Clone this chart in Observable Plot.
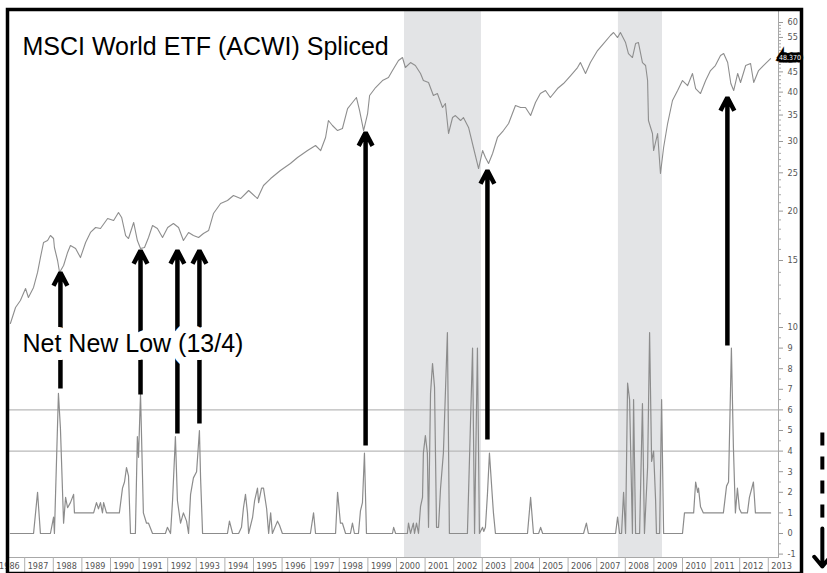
<!DOCTYPE html>
<html><head><meta charset="utf-8">
<script src="https://cdn.jsdelivr.net/npm/d3@7"></script>
<script src="https://cdn.jsdelivr.net/npm/@observablehq/plot@0.6"></script>
<style>
html,body{margin:0;padding:0;background:#fff;}
#wrap{position:relative;width:827px;height:573px;overflow:hidden;}
#wrap svg{position:absolute;left:0;top:0;}
</style></head><body><div id="wrap"></div>
<script>
// ---- data ----
const priceYear = [1986.50,1986.68,1986.85,1987.03,1987.13,1987.31,1987.45,1987.55,1987.66,1987.80,1987.90,1988.01,1988.04,1988.15,1988.22,1988.36,1988.50,1988.60,1988.78,1988.95,1989.13,1989.30,1989.48,1989.65,1989.90,1990.11,1990.28,1990.39,1990.53,1990.63,1990.81,1990.94,1991.05,1991.19,1991.33,1991.47,1991.64,1991.82,1992.00,1992.20,1992.38,1992.55,1992.73,1992.90,1993.08,1993.25,1993.43,1993.60,1993.85,1994.09,1994.30,1994.55,1994.83,1995.14,1995.35,1995.60,1995.94,1996.29,1996.54,1996.89,1997.17,1997.35,1997.52,1997.62,1997.76,1997.94,1998.11,1998.29,1998.46,1998.60,1998.71,1998.85,1998.99,1999.06,1999.27,1999.51,1999.72,1999.86,2000.07,2000.21,2000.31,2000.49,2000.66,2000.84,2000.94,2001.12,2001.29,2001.43,2001.61,2001.71,2001.82,2001.96,2002.06,2002.24,2002.34,2002.52,2002.69,2002.87,2003.01,2003.11,2003.22,2003.36,2003.53,2003.74,2003.92,2004.16,2004.34,2004.51,2004.69,2004.86,2005.03,2005.21,2005.38,2005.63,2005.84,2006.09,2006.33,2006.43,2006.61,2006.78,2007.03,2007.24,2007.48,2007.59,2007.73,2007.83,2008.01,2008.11,2008.25,2008.36,2008.46,2008.60,2008.71,2008.78,2008.81,2008.95,2008.99,2009.13,2009.23,2009.34,2009.48,2009.65,2009.83,2010.00,2010.18,2010.35,2010.46,2010.63,2010.81,2010.98,2011.15,2011.33,2011.44,2011.58,2011.69,2011.79,2011.93,2012.03,2012.21,2012.38,2012.49,2012.66,2012.83,2013.08];
const priceValue = [10.39,11.41,11.88,12.74,12.09,12.82,13.99,15.26,16.66,16.85,17.35,17.05,16.18,15.00,13.99,14.57,15.72,16.37,16.09,15.26,16.66,17.66,18.18,18.07,19.16,18.94,19.84,19.27,17.35,17.05,18.72,16.85,16.09,16.18,17.15,18.39,18.07,17.15,18.18,18.61,18.18,16.85,17.66,17.35,17.15,17.55,17.86,19.72,20.91,21.27,21.90,21.52,22.55,21.52,23.22,24.18,25.34,26.39,27.33,28.46,29.31,28.46,30.71,33.90,32.93,31.98,32.36,36.35,37.65,38.76,35.93,31.98,35.31,39.21,41.08,42.79,43.55,45.36,48.08,48.93,46.16,47.52,46.70,44.58,42.79,42.30,39.21,39.67,36.57,37.43,31.43,34.50,34.90,33.90,34.50,32.55,28.97,25.63,28.46,27.33,26.39,27.97,30.71,31.98,33.31,36.99,36.57,36.57,34.90,37.65,39.67,40.37,38.76,40.84,42.05,44.06,46.16,47.52,44.58,47.52,50.96,53.08,55.62,56.60,54.97,56.60,53.39,50.08,48.93,53.08,53.39,47.52,46.70,42.79,33.90,31.43,28.46,31.43,24.90,28.97,33.31,38.09,40.37,42.79,41.56,44.58,40.84,39.67,42.79,45.36,46.70,49.50,50.08,47.52,42.05,40.37,44.58,42.30,46.70,47.25,42.30,45.36,46.70,48.64];

const nnlYear = [1986.50,1987.31,1987.45,1987.55,1987.90,1988.01,1988.04,1988.18,1988.25,1988.36,1988.43,1988.50,1988.60,1988.71,1988.74,1989.41,1989.51,1989.58,1989.65,1989.72,1989.76,1989.86,1990.31,1990.42,1990.49,1990.56,1990.63,1990.70,1990.87,1990.94,1990.98,1991.05,1991.15,1991.26,1991.33,1991.47,1991.92,1991.99,1992.10,1992.17,1992.27,1992.34,1992.45,1992.55,1992.66,1992.73,1992.80,1992.90,1993.01,1993.11,1993.15,1993.22,1994.09,1994.16,1994.27,1994.48,1994.58,1994.65,1994.72,1994.79,1994.83,1994.97,1995.04,1995.14,1995.18,1995.28,1995.35,1995.46,1995.53,1995.60,1995.66,1995.84,1995.91,1996.01,1996.99,1997.10,1997.17,1997.87,1997.94,1998.04,1998.11,1998.22,1998.39,1998.46,1998.53,1998.67,1998.74,1998.81,1998.88,1998.95,1999.86,1999.90,1999.97,2000.38,2000.42,2000.49,2000.59,2000.63,2000.70,2000.77,2000.84,2000.91,2000.94,2001.01,2001.08,2001.12,2001.19,2001.26,2001.33,2001.40,2001.47,2001.54,2001.64,2001.78,2001.85,2002.48,2002.66,2002.73,2002.83,2002.90,2003.01,2003.05,2003.11,2003.18,2003.25,2003.36,2003.39,2003.46,2004.58,2004.69,2004.79,2004.97,2005.04,2005.11,2006.54,2006.64,2006.71,2007.66,2007.73,2007.80,2007.87,2007.94,2008.01,2008.08,2008.15,2008.25,2008.29,2008.36,2008.50,2008.60,2008.67,2008.78,2008.85,2008.92,2008.99,2009.06,2009.09,2009.20,2009.27,2009.34,2010.00,2010.07,2010.39,2010.46,2010.53,2010.56,2010.63,2010.73,2011.43,2011.54,2011.61,2011.71,2011.78,2011.85,2011.92,2011.99,2012.06,2012.27,2012.34,2012.48,2012.55,2013.08];
const nnlValue = [0,0,2.0,0,0,0.8,0,6.8,5.1,0.5,1.75,1.25,1.5,1.9,1.0,1.0,1.5,1.2,1.5,1.0,1.5,1.0,1.0,2.2,2.5,3.2,2.8,0,0,4.7,3.7,6.8,1.0,0.5,0.5,0,0,0.3,0,1.6,4.7,1.6,0.5,1.0,0.6,0,1.9,2.7,3.0,5.0,2.7,0,0,0.6,0,0,0.3,1.25,1.9,1.0,0,0.8,1.6,2.2,1.5,2.2,2.2,1.2,0,1.0,0,0.6,0.4,0,0,1.0,0,0,2.0,0.5,0.5,0,0,0.5,0,0,1.1,1.5,3.9,0,0,0.3,0,0,0.5,0,0.5,0,0.5,0,1.3,1.75,3.9,4.75,3.9,0.3,6.8,8.25,7.1,0.3,0.3,2.2,3.9,9.75,0,0,9.0,0,9.0,0,0.3,0.1,0.3,1.9,3.9,1.6,1.0,0,0,1.75,0,0,0.3,0,0,0.5,0,0,0.8,0,0,2.0,0,7.3,6.5,0,6.5,0,0,6.3,0,3.2,9.75,3.5,4.0,1.6,0,0,6.5,0,0,1.0,1.0,2.5,2.0,2.2,1.3,1.0,1.0,2.3,2.5,9.0,4.2,1.0,2.2,1.2,1.0,1.0,1.75,2.5,1.0,1.0];

const refLevels = [4, 6];
const shadeStart = [2000.28, 2007.76];
const shadeEnd = [2002.97, 2009.30];

const arrowYear = [1988.25, 1991.05, 1992.34, 1993.11, 1998.92, 2003.18, 2011.57];
const arrowLowPrice = [13.99, 15.9, 15.9, 15.9, 31.6, 25.34, 38.76];
const arrowSpikeNNL = [7.04, 6.75, 4.85, 5.34, 4.27, 4.56, 9.13];

const sideArrowYear = 2014.89;
const sideDashFrom = 4.9, sideDashTo = 0.73, sideHeadFrom = 0.24, sideHeadTo = -1.6;

const yearTicks = d3.range(1986, 2014);
const priceTickMarks = [15, 20, 25, 30, 35, 40, 45, 50, 55, 60];
const priceTickLabels = [15, 20, 25, 30, 35, 40, 45, 55, 60]; // 50 is hidden under the last-value tag
const priceMinor = d3.range(11, 61).filter(v => v % 5 !== 0);
const nnlTicks = d3.range(-1, 11);
const nnlMinor = d3.range(-1, 10).map(v => v + 0.5);

const titleText = "MSCI World ETF (ACWI) Spliced";
const indicatorText = "Net New Low (13/4)";
const lastTagText = "48.370";
const lastTagValue = 48.37;

// ---- tables ----
const price = priceYear.map((y, i) => ({year: y, price: priceValue[i]}));
const nnl = nnlYear.map((y, i) => ({year: y, value: nnlValue[i]}));
const shades = shadeStart.map((s, i) => ({start: s, end: shadeEnd[i]}));

const xOpts = {domain: [1986.434, 2013.357], range: [8, 778]};
const nnlYOpts = {domain: [0, 10], range: [533, 327]};
const priceYOpts = {type: "log", domain: [15, 60], range: [260, 22]};
const pS = Plot.scale({y: priceYOpts});
const nS = Plot.scale({y: nnlYOpts});
const arrows = arrowYear.map((y, i) => ({year: y, low: arrowLowPrice[i], base: pS.invert(nS.apply(arrowSpikeNNL[i]))}));

const tickFont = "'Liberation Sans Narrow','DejaVu Sans Condensed','Arial Narrow',sans-serif";
const W = 827, H = 573;

// bottom layer: shading, indicator, x axis, indicator axis
const bottomChart = Plot.plot({
  width: W, height: H,
  marginLeft: 8, marginRight: 49, marginTop: 10, marginBottom: 16,
  style: {background: "white"},
  x: {...xOpts, label: null},
  y: {...nnlYOpts, label: null},
  marks: [
    Plot.rect(shades, {x1: "start", x2: "end", fill: "#e3e4e6"}),
    Plot.ruleY(refLevels, {stroke: "#b9b9b9", strokeWidth: 1.3}),
    Plot.line(nnl, {x: "year", y: "value", stroke: "#8c8c8c", strokeWidth: 1.2}),
    Plot.frame({anchor: "right", stroke: "#a8a8a8"}),
    Plot.frame({anchor: "bottom", stroke: "#a8a8a8"}),
    Plot.axisX({anchor: "bottom", ticks: yearTicks, tickSize: 16, stroke: "#b0b0b0", fill: "none", label: null}),
    Plot.axisX({anchor: "bottom", ticks: yearTicks, tickSize: 0, tickPadding: 5, tickFormat: d => String(d), textAnchor: "start", dx: 3, fill: "#555", fontSize: 9, fontFamily: tickFont, label: null}),
    Plot.axisY({anchor: "right", ticks: nnlMinor, tickSize: 2, stroke: "#aaa", fill: "none", label: null}),
    Plot.axisY({anchor: "right", ticks: nnlTicks, tickSize: 4, tickPadding: 5, tickFormat: d => String(d), textAnchor: "start", stroke: "#999", fill: "#555", fontSize: 9, fontFamily: tickFont, label: null}),
    Plot.link([{year: sideArrowYear}], {x1: "year", x2: "year", y1: () => sideDashFrom, y2: () => sideDashTo, stroke: "black", strokeWidth: 4, strokeDasharray: "13,11"}),
    Plot.arrow([{year: sideArrowYear}], {x1: "year", x2: "year", y1: () => sideHeadFrom, y2: () => sideHeadTo, stroke: "black", strokeWidth: 4, headLength: 6, headAngle: 80, strokeLinejoin: "miter"})
  ]
});

// top layer: price line, price axis, frame, arrows, text
const topChart = Plot.plot({
  width: W, height: H,
  marginLeft: 7, marginRight: 26, marginTop: 9, marginBottom: 0,
  style: {background: "transparent"},
  x: {...xOpts, axis: null, label: null},
  y: {...priceYOpts, label: null},
  marks: [
    Plot.line(price, {x: "year", y: "price", stroke: "#8e8e8e", strokeWidth: 1.1}),
    Plot.axisY({anchor: "right", ticks: priceMinor, tickSize: 2, dx: -23, stroke: "#aaa", fill: "none", label: null}),
    Plot.axisY({anchor: "right", ticks: priceTickMarks, tickSize: 4, dx: -23, stroke: "#999", fill: "none", label: null}),
    Plot.axisY({anchor: "right", ticks: priceTickLabels, tickSize: 4, tickPadding: 5, dx: -23, tickFormat: d => String(d), textAnchor: "start", stroke: "none", fill: "#555", fontSize: 9, fontFamily: tickFont, label: null}),
    Plot.frame({stroke: "black", strokeWidth: 3.5}),
    Plot.arrow(arrows, {x1: "year", x2: "year", y1: "base", y2: "low", stroke: "black", strokeWidth: 4.5, headLength: 5, headAngle: 55, strokeLinejoin: "miter", strokeLinecap: "butt"}),
    Plot.text([titleText], {frameAnchor: "top-left", dx: 15, dy: 45, lineAnchor: "bottom", textAnchor: "start", fontSize: 25, fontFamily: "'Liberation Sans',Arial,sans-serif", fill: "black"}),
    Plot.text([indicatorText], {frameAnchor: "top-left", dx: 15, dy: 342, lineAnchor: "bottom", textAnchor: "start", fontSize: 25, fontFamily: "'Liberation Sans',Arial,sans-serif", fill: "black", stroke: "white", strokeWidth: 16}),
    Plot.text([{year: xOpts.domain[1], value: lastTagValue}], {x: "year", y: "value", text: () => lastTagText, dx: 11.5, dy: -1.5, textAnchor: "middle", lineAnchor: "middle", fontSize: 7, fontFamily: tickFont, fill: "white", stroke: "black", strokeWidth: 5, strokeLinejoin: "miter"})
  ]
});

const wrap = document.getElementById("wrap");
wrap.appendChild(bottomChart);
wrap.appendChild(topChart);
</script>
</body></html>
